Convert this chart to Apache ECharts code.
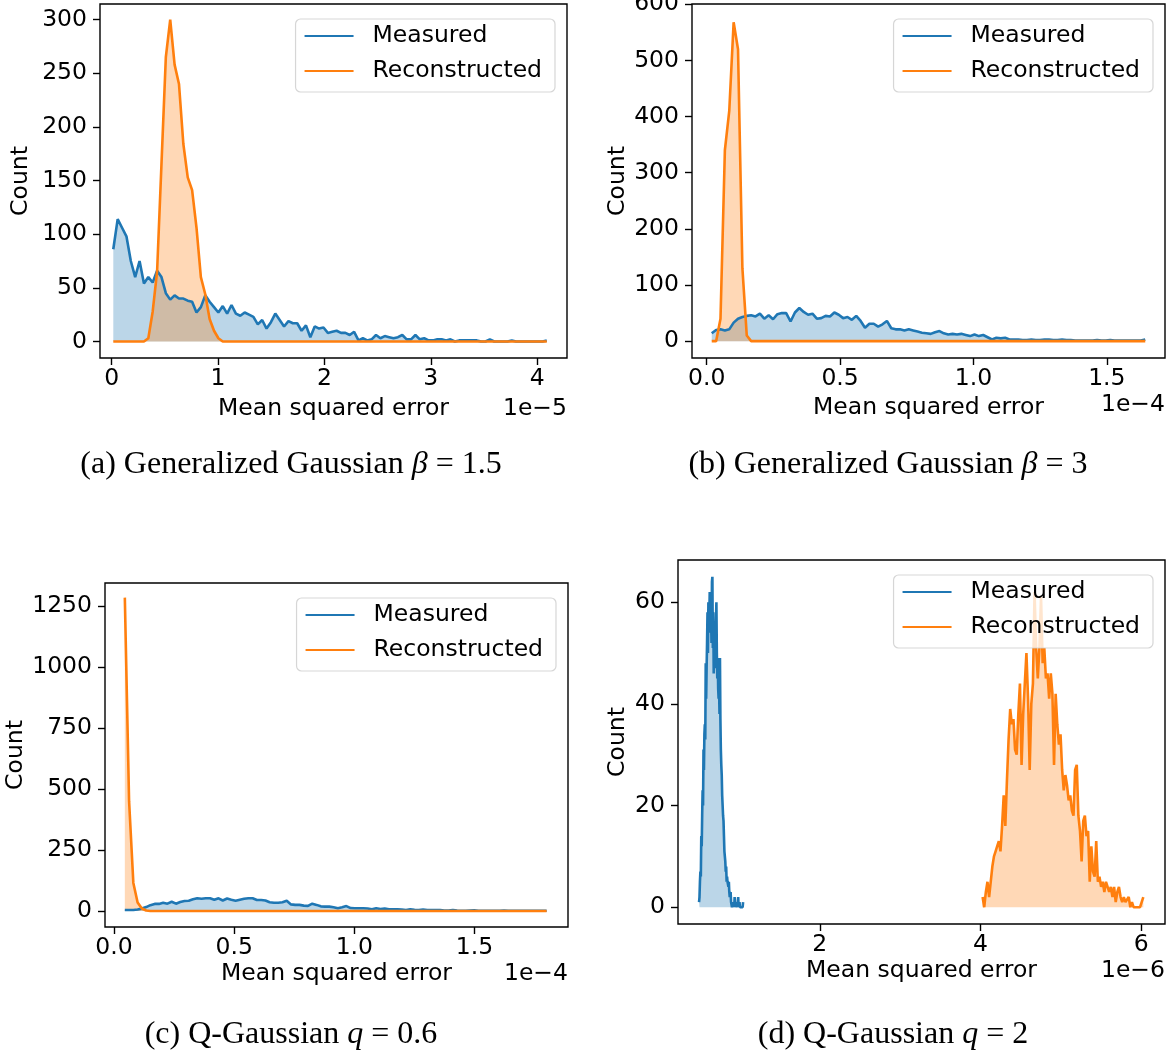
<!DOCTYPE html>
<html>
<head>
<meta charset="utf-8">
<script src="https://cdn.jsdelivr.net/npm/echarts@6.0.0/dist/echarts.min.js"></script>
<style>
  html, body { margin: 0; padding: 0; background: #fff; }
  #chart { width: 1172px; height: 1053px; }
</style>
</head>
<body>
<div id="chart"></div>
<script>
// histogram bin centres span [first, last]; counts
// (a) x in units of 1e-5
const aRange = [0.015, 4.09];
const aMeasured = [
  86, 114, 106, 98, 75, 60, 75, 54, 60, 55,
  66, 60, 45, 39, 43, 40, 40, 38, 37, 27,
  32, 43, 37, 32, 27, 33, 26, 34, 26, 24,
  27, 25, 23, 16, 20, 12, 18, 26, 20, 14,
  19, 17, 17, 10, 15, 4, 14, 12, 13, 8,
  9, 10, 8, 8, 6, 9, 1, 3, 1, 2,
  6, 3, 5, 4, 3, 4, 6, 2, 2, 6,
  2, 3, 1, 1, 2, 2, 1, 2, 0, 1,
  1, 1, 1, 1, 0, 0, 2, 0, 0, 0,
  0, 1, 0, 0, 0, 0, 0, 0, 0, 1
];
const aReconstructed = [
  0, 0, 0, 0, 0, 0, 0, 0, 3, 28,
  65, 165, 265, 300, 258, 240, 184, 153, 141, 106,
  60, 44, 21, 10, 3, 0, 0, 0, 0, 0,
  0, 0, 0, 0, 0, 0, 0, 0, 0, 0,
  0, 0, 0, 0, 0, 0, 0, 0, 0, 0,
  0, 0, 0, 0, 0, 0, 0, 0, 0, 0,
  0, 0, 0, 0, 0, 0, 0, 0, 0, 0,
  0, 0, 0, 0, 0, 0, 0, 0, 0, 0,
  0, 0, 0, 0, 0, 0, 0, 0, 0, 0,
  0, 0, 0, 0, 0, 0, 0, 0, 0, 0
];

// (b) x in units of 1e-4
const bRange = [0.019, 1.644];
const bMeasured = [
  14, 20, 21, 19, 21, 33, 40, 43, 45, 46,
  44, 49, 40, 46, 39, 48, 50, 50, 35, 51,
  59, 52, 47, 49, 40, 41, 45, 44, 51, 47,
  41, 43, 38, 45, 36, 24, 31, 31, 26, 30,
  36, 23, 21, 21, 19, 21, 19, 17, 15, 14,
  13, 16, 18, 14, 12, 13, 12, 13, 11, 9,
  12, 9, 11, 7, 3, 6, 5, 6, 3, 3,
  3, 2, 2, 3, 2, 2, 3, 3, 2, 2,
  3, 2, 2, 1, 1, 1, 1, 1, 2, 1,
  1, 2, 1, 1, 1, 1, 1, 1, 1, 3
];
const bReconstructed = [
  0, 0, 40, 340, 410, 568, 520, 130, 10, 0,
  0, 0, 0, 0, 0, 0, 0, 0, 0, 0,
  0, 0, 0, 0, 0, 0, 0, 0, 0, 0,
  0, 0, 0, 0, 0, 0, 0, 0, 0, 0,
  0, 0, 0, 0, 0, 0, 0, 0, 0, 0,
  0, 0, 0, 0, 0, 0, 0, 0, 0, 0,
  0, 0, 0, 0, 0, 0, 0, 0, 0, 0,
  0, 0, 0, 0, 0, 0, 0, 0, 0, 0,
  0, 0, 0, 0, 0, 0, 0, 0, 0, 0,
  0, 0, 0, 0, 0, 0, 0, 0, 0, 0
];

// (c) x in units of 1e-4
const cRange = [0.045, 1.80];
const cMeasured = [
  4, 4, 4, 6, 10, 16, 24, 29, 29, 34,
  30, 38, 30, 37, 41, 42, 48, 52, 50, 52,
  52, 46, 52, 43, 51, 46, 42, 46, 50, 52,
  52, 45, 45, 43, 36, 34, 34, 36, 42, 27,
  25, 25, 22, 21, 30, 25, 19, 18, 18, 15,
  11, 15, 20, 12, 11, 11, 11, 10, 7, 11,
  8, 10, 7, 7, 7, 6, 4, 7, 5, 4,
  6, 4, 4, 4, 4, 2, 2, 4, 2, 1,
  1, 2, 3, 1, 1, 1, 1, 1, 1, 2,
  1, 1, 1, 1, 1, 1, 1, 1, 1, 1
];
const cReconstructed = [
  1284, 450, 115, 35, 10, 2, 0, 0, 0, 0,
  0, 0, 0, 0, 0, 0, 0, 0, 0, 0,
  0, 0, 0, 0, 0, 0, 0, 0, 0, 0,
  0, 0, 0, 0, 0, 0, 0, 0, 0, 0,
  0, 0, 0, 0, 0, 0, 0, 0, 0, 0,
  0, 0, 0, 0, 0, 0, 0, 0, 0, 0,
  0, 0, 0, 0, 0, 0, 0, 0, 0, 0,
  0, 0, 0, 0, 0, 0, 0, 0, 0, 0,
  0, 0, 0, 0, 0, 0, 0, 0, 0, 0,
  0, 0, 0, 0, 0, 0, 0, 0, 0, 0
];

// (d) x in units of 1e-6, each series has its own bins
const dMeasuredRange = [0.497, 1.045];
const dMeasured = [
  1, 2, 5, 7, 6, 14, 12, 18, 23, 20,
  31, 27, 34, 36, 33, 48, 41, 47, 52, 58,
  50, 60, 55, 57, 62, 54, 61, 58, 52, 64,
  65, 51, 58, 46, 55, 49, 53, 47, 56, 60,
  50, 45, 49, 43, 41, 43, 38, 49, 37, 31,
  28, 26, 22, 20, 18, 17, 14, 11, 10, 9,
  7, 8, 5, 6, 5, 5, 4, 5, 3, 2,
  2, 3, 1, 1, 0, 0, 1, 0, 1, 0,
  2, 0, 1, 0, 0, 1, 0, 0, 2, 0,
  0, 1, 0, 0, 0, 0, 0, 0, 0, 1
];
const dReconstructedRange = [4.026, 6.026];
const dReconstructed = [
  2, 0, 3, 5, 2, 5, 8, 10, 11, 12,
  13, 11, 16, 22, 16, 25, 33, 39, 36, 37,
  31, 30, 38, 44, 28, 38, 44, 50, 41, 27,
  40, 44, 62, 51, 45, 51, 61, 48, 51, 45,
  46, 41, 46, 42, 28, 42, 36, 32, 34, 27,
  23, 26, 24, 21, 22, 19, 18, 27, 28, 18,
  15, 9, 17, 18, 14, 15, 5, 12, 7, 6,
  13, 5, 6, 4, 5, 3, 5, 4, 3, 4,
  2, 4, 1, 3, 4, 2, 1, 2, 1, 1,
  2, 0, 1, 0, 0, 0, 0, 0, 0, 2
];

const xTicksA = [0, 1, 2, 3, 4];
const xTicksB = [0, 0.5, 1.0, 1.5];
const xTicksC = [0, 0.5, 1.0, 1.5];
const xTicksD = [2, 4, 6];
const yTicksA = [0, 50, 100, 150, 200, 250, 300];
const yTicksB = [0, 100, 200, 300, 400, 500, 600];
const yTicksC = [0, 250, 500, 750, 1000, 1250];
const yTicksD = [0, 20, 40, 60];

function bins(range, counts) {
  const step = (range[1] - range[0]) / (counts.length - 1);
  return counts.map((c, i) => [range[0] + i * step, c]);
}

const FONT = "'DejaVu Sans', sans-serif";
const SERIF = "'Liberation Serif', serif";
const FS = 23.5;
const CAP = 32;
const BLUE = '#1f77b4';
const ORANGE = '#ff7f0e';

const panels = [
  { grid: { left: 100, top: 4, width: 467, height: 354 }, x: [-0.11, 4.28], y: [-15.4, 314.5],
    xTicks: xTicksA, yTicks: yTicksA, dec: 0, countGap: 67, nameGap: 39, offsetGap: 51, offset: '1e\u22125',
    m: bins(aRange, aMeasured), r: bins(aRange, aReconstructed) },
  { grid: { left: 692, top: 4, width: 473, height: 354 }, x: [-0.055, 1.718], y: [-30, 600.5],
    xTicks: xTicksB, yTicks: yTicksB, dec: 1, countGap: 62, nameGap: 38, offsetGap: 47, offset: '1e\u22124',
    m: bins(bRange, bMeasured), r: bins(bRange, bReconstructed) },
  { grid: { left: 105, top: 583, width: 463, height: 344 }, x: [-0.0375, 1.889], y: [-65.6, 1344],
    xTicks: xTicksC, yTicks: yTicksC, dec: 1, countGap: 67, nameGap: 35, offsetGap: 47, offset: '1e\u22124',
    m: bins(cRange, cMeasured), r: bins(cRange, cReconstructed) },
  { grid: { left: 678, top: 560, width: 487, height: 364 }, x: [0.235, 6.296], y: [-3.3, 68.3],
    xTicks: xTicksD, yTicks: yTicksD, dec: 0, countGap: 48, nameGap: 35, offsetGap: 47, offset: '1e\u22126',
    m: bins(dMeasuredRange, dMeasured), r: bins(dReconstructedRange, dReconstructed) }
];

const captions = [
  { x: 291, y: 465, text: '{n|(a) Generalized Gaussian }{i|\u03b2}{n| = 1.5}' },
  { x: 888, y: 465, text: '{n|(b) Generalized Gaussian }{i|\u03b2}{n| = 3}' },
  { x: 291, y: 1035, text: '{n|(c) Q-Gaussian }{i|q}{n| = 0.6}' },
  { x: 893, y: 1035, text: '{n|(d) Q-Gaussian }{i|q}{n| = 2}' }
];

const tickStyle = { color: '#000', width: 1.4 };
const grids = [], xAxes = [], yAxes = [], fills = [], lines = [], legends = [], graphics = [];

panels.forEach((p, i) => {
  grids.push(Object.assign({ show: true, borderColor: '#000', borderWidth: 1.4,
    backgroundColor: 'transparent', containLabel: false, outerBoundsMode: 'none' }, p.grid));
  xAxes.push({
    type: 'value', gridIndex: i, min: p.x[0], max: p.x[1],
    axisLine: { show: false, onZero: false },
    splitLine: { show: false },
    axisTick: { show: true, length: 7, lineStyle: tickStyle, customValues: p.xTicks },
    axisLabel: { customValues: p.xTicks, margin: 9, fontSize: FS, fontFamily: FONT, color: '#000',
      formatter: v => v.toFixed(p.dec) },
    name: 'Mean squared error', nameLocation: 'middle', nameGap: p.nameGap,
    nameTextStyle: { fontSize: FS, fontFamily: FONT, color: '#000' }
  });
  yAxes.push({
    type: 'value', gridIndex: i, min: p.y[0], max: p.y[1],
    axisLine: { show: false, onZero: false },
    splitLine: { show: false },
    axisTick: { show: true, length: 7, lineStyle: tickStyle, customValues: p.yTicks },
    axisLabel: { customValues: p.yTicks, margin: 13, fontSize: FS, fontFamily: FONT, color: '#000',
      formatter: v => String(v) },
    name: 'Count', nameLocation: 'middle', nameGap: p.countGap,
    nameTextStyle: { fontSize: FS, fontFamily: FONT, color: '#000' }
  });
  // shaded areas first, then the outlines on top of both areas
  [['Measured', BLUE, p.m], ['Reconstructed', ORANGE, p.r]].forEach(([name, color, data]) => {
    fills.push({
      name: name + ' area', type: 'line', xAxisIndex: i, yAxisIndex: i, data,
      symbol: 'none', silent: true, z: 2,
      lineStyle: { width: 0, opacity: 0 },
      areaStyle: { color, opacity: 0.3 },
      emphasis: { disabled: true }
    });
    lines.push({
      name, type: 'line', xAxisIndex: i, yAxisIndex: i, data,
      symbol: 'none', showSymbol: false, silent: true, z: 3,
      lineStyle: { color, width: 2.6 },
      itemStyle: { color },
      emphasis: { disabled: true }
    });
  });
  const right = 1172 - (p.grid.left + p.grid.width - 12);
  legends.push({
    orient: 'vertical', right, top: p.grid.top + 15,
    data: ['Measured', 'Reconstructed'], selectedMode: false,
    itemWidth: 49, itemHeight: 24, itemGap: 11, padding: [5, 13, 9, 8],
    backgroundColor: 'rgba(255,255,255,0.8)', borderColor: 'rgba(204,204,204,0.8)',
    borderWidth: 1.2, borderRadius: 5,
    itemStyle: { opacity: 0 },
    textStyle: { fontSize: FS, fontFamily: FONT, color: '#000', padding: [0, 0, 0, 14] }
  });
  graphics.push({
    type: 'text', x: p.grid.left + p.grid.width, y: p.grid.top + p.grid.height + p.offsetGap,
    style: { text: p.offset, fill: '#000', fontSize: FS, fontFamily: FONT,
      textAlign: 'right', textVerticalAlign: 'middle' }
  });
});

captions.forEach(c => {
  graphics.push({
    type: 'text', x: c.x, y: c.y,
    style: {
      text: c.text, fill: '#000', fontSize: CAP, fontFamily: SERIF,
      textAlign: 'center', textVerticalAlign: 'middle',
      rich: {
        n: { fontSize: CAP, fontFamily: SERIF, fill: '#000' },
        i: { fontSize: CAP, fontFamily: SERIF, fontStyle: 'italic', fill: '#000' }
      }
    }
  });
});

const chart = echarts.init(document.getElementById('chart'));
chart.setOption({
  animation: false,
  backgroundColor: '#fff',
  grid: grids,
  xAxis: xAxes,
  yAxis: yAxes,
  legend: legends,
  series: fills.concat(lines),
  graphic: graphics
});
</script>
</body>
</html>
